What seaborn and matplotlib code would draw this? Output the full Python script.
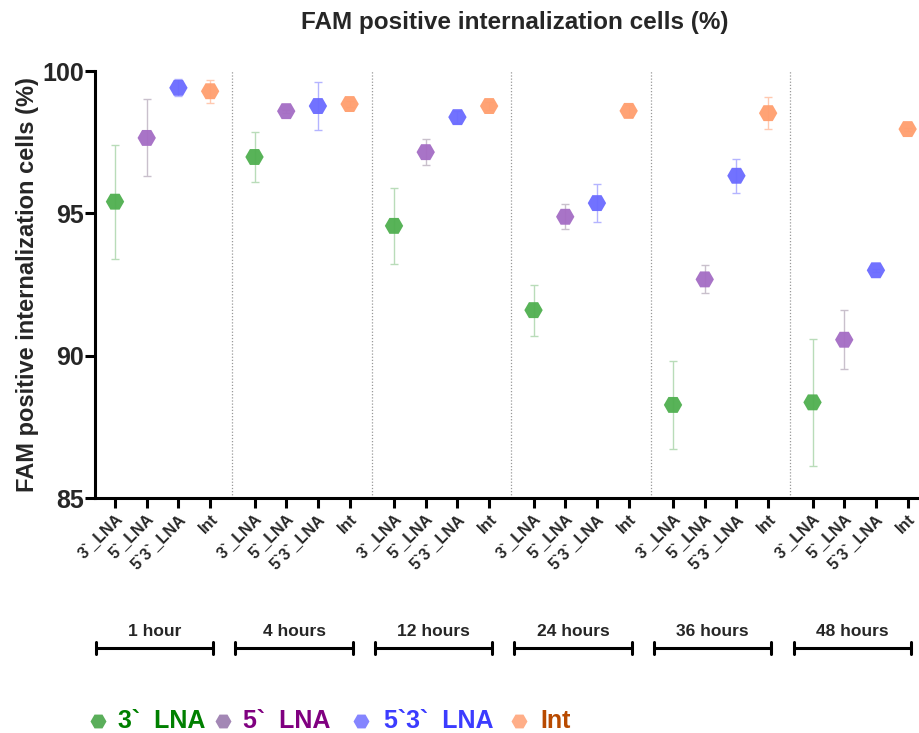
import numpy as np
import pandas as pd
import matplotlib
matplotlib.use("Agg")
import matplotlib.pyplot as plt
import matplotlib.transforms as mtransforms
from matplotlib.lines import Line2D
import seaborn as sns

sns.set_style("white")
plt.rcParams['font.family'] = ['Liberation Sans', 'DejaVu Sans']
plt.rcParams['font.weight'] = 'bold'

# ---- data ----
timepoints = ["1 hour", "4 hours", "12 hours", "24 hours", "36 hours", "48 hours"]
constructs = ["3`_LNA", "5`_LNA", "5`3`_LNA", "Int"]
legend_labels = ["3`  LNA", "5`  LNA", "5`3`  LNA", "Int"]

mean_3 = [95.41, 96.98, 94.56, 91.60, 88.27, 88.36]
err_3 = [2.00, 0.88, 1.33, 0.90, 1.56, 2.23]
mean_5 = [97.65, 98.59, 97.15, 94.88, 92.68, 90.56]
err_5 = [1.35, 0.05, 0.45, 0.44, 0.49, 1.04]
mean_53 = [99.41, 98.77, 98.38, 95.36, 96.32, 93.00]
err_53 = [0.30, 0.83, 0.20, 0.67, 0.60, 0.05]
mean_int = [99.29, 98.84, 98.77, 98.60, 98.52, 97.96]
err_int = [0.40, 0.10, 0.15, 0.20, 0.56, 0.05]

marker_colors = ["#4faf4f", "#a46cc4", "#6a6aff", "#ff9e6e"]
legend_marker_colors = ["#5aae5a", "#a387b5", "#8585ff", "#ffae88"]
err_colors = ["#b9dcb9", "#c9c0cc", "#b4b4ff", "#ffc9b0"]
text_colors = ["#008000", "#800080", "#3c3cff", "#b84a00"]

means = [mean_3, mean_5, mean_53, mean_int]
errs = [err_3, err_5, err_53, err_int]

group_step = 4.4
rows = []
for gi, tp in enumerate(timepoints):
    for ci, c in enumerate(constructs):
        rows.append(dict(time=tp, construct=c, x=gi * group_step + ci,
                         mean=means[ci][gi], err=errs[ci][gi]))
df = pd.DataFrame(rows)

fig = plt.figure(figsize=(9.19, 7.33), dpi=100)
ax = fig.add_axes([0.1034, 0.3206, 0.8946, 0.5825])

# error bars
for ci, c in enumerate(constructs):
    sub = df[df.construct == c]
    ax.errorbar(sub.x, sub["mean"], yerr=sub.err, fmt="none",
                ecolor=err_colors[ci], elinewidth=1.0, capsize=3, capthick=1.0, zorder=2)

sns.scatterplot(data=df, x="x", y="mean", hue="construct", hue_order=constructs,
                palette=marker_colors, marker="H", s=175, alpha=0.95,
                edgecolor="none", legend=False, ax=ax, zorder=3)

# dividers
for gi in range(1, len(timepoints)):
    xd = gi * group_step - (group_step - 3) / 2
    ax.axvline(xd, color="#999999", lw=0.9, ls=(0, (1, 1.5)), zorder=1)

ax.set_xlim(-0.63, 5 * group_step + 3 + 0.3)
ax.set_ylim(85, 100)
ax.set_yticks([85, 90, 95, 100])
ax.set_yticklabels(["85", "90", "95", "100"], fontsize=18, fontweight="bold")
ax.set_xticks(df.x)
ax.set_xticklabels(df.construct, rotation=45, ha="right", rotation_mode="anchor",
                   fontsize=11.5, fontweight="bold")
ax.set_xlabel("")
ax.set_ylabel("FAM positive internalization cells (%)", fontsize=17,
              fontweight="bold", labelpad=2)
ax.set_title("FAM positive internalization cells (%)", fontsize=17.5,
             fontweight="bold", pad=30, x=0.51)

for s in ["top", "right"]:
    ax.spines[s].set_visible(False)
for s in ["left", "bottom"]:
    ax.spines[s].set_linewidth(2.2)
    ax.spines[s].set_color("black")
ax.tick_params(axis="both", direction="out", length=7, width=2.2, color="black",
               left=True, bottom=True)
ax.tick_params(axis="y", pad=1)
ax.tick_params(axis="x", pad=3)

# group brackets below
trans = mtransforms.blended_transform_factory(ax.transData, fig.transFigure)
y_line = 1 - 648 / 733
y_text = 1 - 632 / 733
cap_h = 6 / 733
for gi, tp in enumerate(timepoints):
    x0 = gi * group_step - 0.6
    x1 = gi * group_step + 3.1
    ax.plot([x0, x1], [y_line, y_line], color="black", lw=2.2, transform=trans, clip_on=False)
    for xx in (x0, x1):
        ax.plot([xx, xx], [y_line - cap_h, y_line + cap_h], color="black", lw=2.2,
                transform=trans, clip_on=False)
    ax.text((x0 + x1) / 2, y_text, tp, transform=trans, ha="center", va="center",
            fontsize=12.5, fontweight="bold")

# legend (manual placement in figure pixels)
marker_px = [98, 223, 361, 519]
text_px = [118, 243, 384, 540]
y_leg = 1 - 721 / 733
for i in range(4):
    fig.add_artist(Line2D([marker_px[i] / 919], [y_leg], marker="H", ls="none",
                          markersize=11.5, markerfacecolor=legend_marker_colors[i],
                          markeredgecolor="none", transform=fig.transFigure))
    fig.text(text_px[i] / 919, y_leg, legend_labels[i], color=text_colors[i],
             fontsize=18, fontweight="bold", ha="left", va="center")

fig.savefig("out.png", dpi=100)
